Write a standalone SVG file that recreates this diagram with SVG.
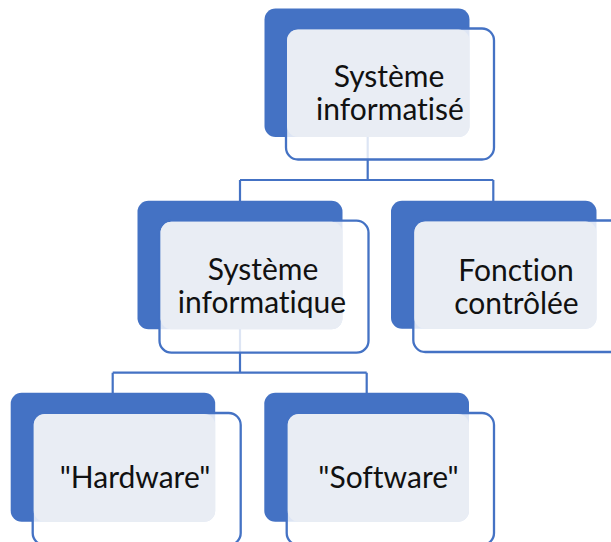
<svg xmlns="http://www.w3.org/2000/svg" width="611" height="542" viewBox="0 0 611 542">
<style>
.back{fill:#4472C4}
.front{fill:#ffffff;fill-opacity:0.82;stroke:#4472C4;stroke-width:2.3}
.tb{fill:#E9EDF4}
.lbl{font-family:Lato,"Open Sans",sans-serif;font-size:30px;fill:#111;text-anchor:middle;font-variant-ligatures:none;font-feature-settings:"liga" 0,"dlig" 0}
.conn{fill:none;stroke:#4472C4;stroke-width:2.2}
</style>
<rect width="611" height="542" fill="#ffffff"/>
<g id="connectors">
<path class="conn" d="M367.7,137 V180 M240,180 H493.3 M240,180 V201 M493.3,180 V201"/>
<path class="conn" d="M240,329 V372.7 M112.7,372.7 H366.7 M112.7,372.7 V393 M366.7,372.7 V393"/>
</g>
<g id="n-systeme-informatise">
<rect class="back" x="264.5" y="8.5" width="205" height="128.5" rx="11"/>
<rect class="front" x="286" y="28.5" width="208" height="131" rx="12"/>
<rect class="tb" x="287" y="29.5" width="182.5" height="107.5" rx="11"/>
<text class="lbl" x="389" y="87">Système</text>
<text class="lbl" x="390" y="119.5">informatisé</text>
</g>
<g id="n-systeme-informatique">
<rect class="back" x="137.5" y="200.7" width="205" height="128.5" rx="11"/>
<rect class="front" x="159.5" y="220.7" width="209" height="132" rx="12"/>
<rect class="tb" x="160.5" y="221.7" width="182" height="107.5" rx="11"/>
<text class="lbl" x="263" y="279.5">Système</text>
<text class="lbl" x="262" y="313">informatique</text>
</g>
<g id="n-fonction-controlee">
<rect class="back" x="391" y="200.7" width="205.5" height="128" rx="11"/>
<rect class="front" x="413.3" y="220.5" width="209" height="131.5" rx="12"/>
<rect class="tb" x="414.3" y="221.5" width="182.2" height="107.2" rx="11"/>
<text class="lbl" x="516" y="281">Fonction</text>
<text class="lbl" x="516.5" y="313.5">contrôlée</text>
</g>
<g id="n-hardware">
<rect class="back" x="10.7" y="392.7" width="204.5" height="129" rx="11"/>
<rect class="front" x="32.7" y="413" width="208" height="132" rx="12"/>
<rect class="tb" x="33.7" y="414" width="181.5" height="107.7" rx="11"/>
<text class="lbl" x="135" y="488">"Hardware"</text>
</g>
<g id="n-software">
<rect class="back" x="264.3" y="392.7" width="204.7" height="129" rx="11"/>
<rect class="front" x="286.7" y="413" width="207.3" height="132" rx="12"/>
<rect class="tb" x="287.7" y="414" width="181.3" height="107.7" rx="11"/>
<text class="lbl" x="388.5" y="488">"Software"</text>
</g>
</svg>
